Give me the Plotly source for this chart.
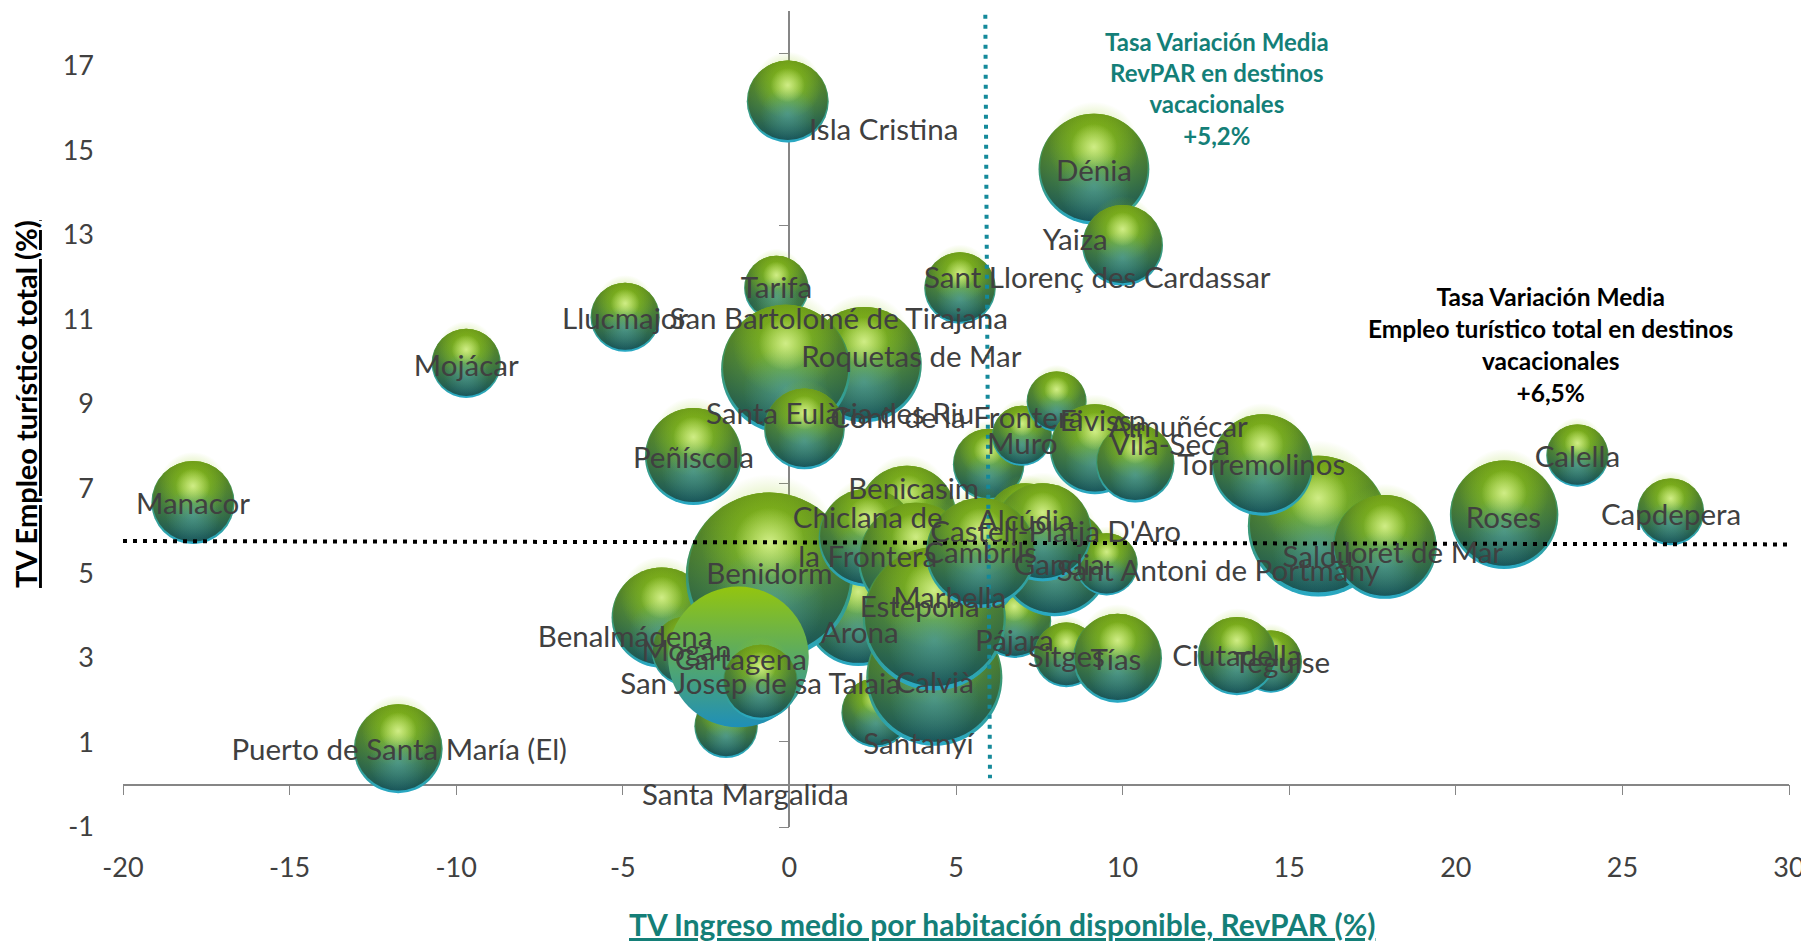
import plotly.graph_objects as go

# Name, RevPAR variation, employment variation, bubble size (back-to-front order)
names = ["Salou", "Lloret de Mar", "Roses", "Calella", "Capdepera", "Torremolinos",
         "Isla Cristina", "Dénia", "Yaiza", "Sant Llorenç des Cardassar", "Tarifa", "Llucmajor",
         "Roquetas de Mar", "San Bartolomé de Tirajana", "Mojácar", "Manacor", "Peñíscola",
         "Santa Eulària des Riu", "Conil de la Frontera", "Muro", "Almuñécar", "Eivissa", "Vila-Seca",
         "Puerto de Santa María (El)", "Santa Margalida", "Benalmádena", "Mogán", "Arona", "Benidorm",
         "Cartagena", "San Josep de sa Talaia", "Santanyí", "Calvià", "Pájara", "Sitges", "Tías",
         "Teguise", "Ciutadella", "Benicasim", "Chiclana de<br>la Frontera", "", "Alcúdia",
         "Gandia", "Sant Antoni de Portmany", "Marbella", "Estepona", "Castell-Platja D'Aro",
         "Cambrils"]
revpar = [15.87, 17.87, 21.45, 23.65, 26.45, 14.2,
          -0.05, 9.14, 10.0, 5.12, -0.39, -4.93,
          2.24, -0.11, -9.7, -17.9, -2.88,
          0.45, 5.98, 6.98, 8.02, 9.17, 10.38,
          -11.74, -1.9, -3.83, -3.09, 2.07, -0.6,
          -1.53, -0.87, 2.6, 4.35, 6.75, 8.31, 9.85,
          14.45, 13.43, 3.53, 2.35, 3.8, 7.09,
          7.96, 9.52, 5.5, 4.35, 7.6,
          5.74]
empleo = [6.11, 5.62, 6.38, 7.78, 6.45, 7.56,
          16.15, 14.55, 12.75, 11.74, 11.74, 11.05,
          9.93, 9.82, 9.96, 6.67, 7.76,
          8.41, 7.57, 8.25, 9.06, 7.93, 7.6,
          0.85, 1.38, 3.95, 3.16, 4.06, 4.93,
          3.02, 2.42, 1.7, 2.53, 3.87, 3.07, 2.99,
          2.91, 3.04, 6.38, 5.84, 5.3, 6.17,
          5.29, 5.21, 5.02, 3.92, 5.97,
          5.48]
size = [122, 90, 94, 54, 58, 88,
        71, 96, 70, 62, 56, 60,
        100, 112, 60, 72, 84,
        70, 62, 52, 52, 78, 68,
        77, 55, 87, 60, 92, 145,
        122, 65, 60, 118, 64, 56, 77,
        54, 68, 85, 85, 100, 70,
        96, 54, 80, 124, 85,
        95]
label_x = [15.86, 18.8, 21.43, 23.65, 26.46, 14.16,
           2.83, 9.14, 8.58, 9.24, -0.39, -4.93,
           3.66, 1.48, -9.7, -17.9, -2.88,
           1.52, 5.02, 6.99, 11.67, 9.41, 11.42,
           -11.71, -1.32, -4.93, -3.09, 2.11, -0.6,
           -1.46, -0.87, 3.87, 4.36, 6.75, 8.31, 9.8,
           14.78, 13.43, 3.73, 2.35, 3.8, 7.09,
           8.1, 12.87, 4.81, 3.91, 7.99,
           5.74]
label_y = [5.33, 5.41, 6.24, 7.68, 6.32, 7.5,
           15.42, 14.45, 12.82, 11.91, 11.67, 10.95,
           10.05, 10.95, 9.83, 6.57, 7.66,
           8.7, 8.6, 7.99, 8.4, 8.54, 7.97,
           0.76, -0.31, 3.44, 3.09, 3.52, 4.92,
           2.89, 2.32, 0.9, 2.35, 3.33, 2.95, 2.89,
           2.81, 2.97, 6.93, 5.78, 5.23, 6.16,
           5.14, 5.0, 4.35, 4.15, 5.9,
           5.41]
flat_bubbles = ["Cartagena"]

mean_empleo_x = [-20, 30]
mean_empleo_y = [5.76, 5.68]
mean_revpar_x = [5.88, 6.02]
mean_revpar_y = [18.2, 0.15]

x_ticks = [-20, -15, -10, -5, 0, 5, 10, 15, 20, 25, 30]
y_ticks = [-1, 1, 3, 5, 7, 9, 11, 13, 15, 17]
x_tick_text = ["-20", "-15", "-10", "-5", "0", "5", "10", "15", "20", "25", "30"]
y_tick_text = ["-1", "1", "3", "5", "7", "9", "11", "13", "15", "17"]

FONT = "Lato"
GREY = "#404040"
TEAL = "#147f78"
PX_PER_Y = 42.3
SIZEREF = 0.867

fig = go.Figure()

def layer(x, y, s, color, grad=None, gtype="none"):
    fig.add_trace(go.Scatter(
        x=[x], y=[y], mode="markers", hoverinfo="skip", showlegend=False,
        marker=dict(size=[s], sizemode="diameter", sizeref=SIZEREF, color=color, opacity=1,
                    line=dict(width=0),
                    gradient=dict(type=gtype, color=grad or color))))

for n, x, y, s in zip(names, revpar, empleo, size):
    dy = (s / SIZEREF) / PX_PER_Y      # bubble diameter in y units
    if n in flat_bubbles:
        layer(x, y, s, "#93c50f", "#1f8fb8", "vertical")
        continue
    # outer shell with its bright lower rim
    layer(x, y, s, "#5f9a18", "#30c8f0", "vertical")
    layer(x, y, s, "rgba(20,70,60,0.25)", "rgba(20,70,60,0)", "radial")
    # body, raised slightly above the rim
    layer(x, y + 0.015 * dy, s * 0.97, "#a6d60c", "#1f6a78", "vertical")
    layer(x, y + 0.015 * dy, s * 0.97, "rgba(15,55,45,0.42)", "rgba(15,55,45,0)", "radial")
    # lime glow over the upper half, teal glow over the lower half
    layer(x, y + 0.2 * dy, s * 0.82, "rgba(150,205,20,0)", "rgba(150,205,25,0.7)", "radial")
    layer(x, y - 0.15 * dy, s * 0.66, "rgba(75,155,160,0)", "rgba(80,160,165,0.65)", "radial")
    # specular highlight
    layer(x, y + 0.2 * dy, s * 0.42, "rgba(225,248,160,0)", "rgba(225,248,160,0.8)", "radial")

dot = dict(mode="lines", hoverinfo="skip", showlegend=False)
fig.add_trace(go.Scatter(x=mean_empleo_x, y=mean_empleo_y,
                         line=dict(color="#000000", width=4, dash="4px,6px"), **dot))
fig.add_trace(go.Scatter(x=mean_revpar_x, y=mean_revpar_y,
                         line=dict(color="#14899a", width=4, dash="4px,6px"), **dot))

fig.add_trace(go.Scatter(x=label_x, y=label_y, text=names, mode="text", hoverinfo="skip",
                         showlegend=False, cliponaxis=False,
                         textposition="middle center",
                         textfont=dict(family=FONT, size=29.5, color=GREY)))

# Invisible anchor for the crossing axes
fig.add_trace(go.Scatter(x=[0], y=[0], xaxis="x2", yaxis="y2", mode="markers",
                         marker=dict(opacity=0), hoverinfo="skip", showlegend=False))

y_top = 18.29
y_range = [-1, y_top]
x_range = [-20, 30]
span = y_top + 1
fig.update_layout(
    width=1809, height=941, paper_bgcolor="white", plot_bgcolor="white",
    margin=dict(l=115, r=28, t=3, b=122), showlegend=False,
    font=dict(family=FONT, color=GREY),
    xaxis=dict(range=x_range, tickvals=x_ticks, ticktext=x_tick_text, showgrid=False, zeroline=False,
               showline=False, ticks="", ticklabelstandoff=22,
               tickfont=dict(family=FONT, size=27, color=GREY)),
    yaxis=dict(range=y_range, tickvals=y_ticks, ticktext=y_tick_text, showgrid=False, zeroline=False,
               showline=False, ticks="", ticklabelstandoff=28,
               tickfont=dict(family=FONT, size=27, color=GREY)),
    xaxis2=dict(range=x_range, tickvals=x_ticks, overlaying="x", anchor="free",
                position=1 / span, side="bottom", showgrid=False, zeroline=False,
                showline=True, linecolor="#868686", linewidth=1.5, ticks="outside", ticklen=10,
                tickcolor="#868686", showticklabels=False, layer="below traces"),
    yaxis2=dict(range=[-1, 18], tickvals=y_ticks, overlaying="y", anchor="free",
                position=0.4, side="left", showgrid=False, zeroline=False,
                domain=[0, 19 / span], showline=True, linecolor="#868686", linewidth=1.5,
                ticks="outside", ticklen=10, tickcolor="#868686", showticklabels=False,
                layer="below traces"),
    annotations=[
        dict(x=12.84, y=16.45, xref="x", yref="y", showarrow=False, align="center",
             text="<b>Tasa Variación Media<br>RevPAR en destinos<br>vacacionales<br>+5,2%</b>",
             font=dict(family=FONT, size=24, color=TEAL)),
        dict(x=22.85, y=10.4, xref="x", yref="y", showarrow=False, align="center",
             text="<b>Tasa Variación Media<br>Empleo turístico total en destinos<br>vacacionales<br>+6,5%</b>",
             font=dict(family=FONT, size=24.5, color="#000000")),
        dict(x=6.4, xref="x", y=0, yref="paper", yanchor="middle", yshift=-97, showarrow=False,
             text="<b>TV Ingreso medio por habitación disponible, RevPAR (%)</b>",
             font=dict(family=FONT, size=30, color=TEAL, lineposition="under")),
        dict(x=0, xref="paper", xanchor="center", xshift=-97, y=9.0, yref="y", showarrow=False,
             textangle=-90, text="<b>TV Empleo turístico total (%)</b>",
             font=dict(family=FONT, size=29, color="#000000", lineposition="under")),
    ],
)

fig.write_html("out.html", config={"responsive": False, "displayModeBar": False})
